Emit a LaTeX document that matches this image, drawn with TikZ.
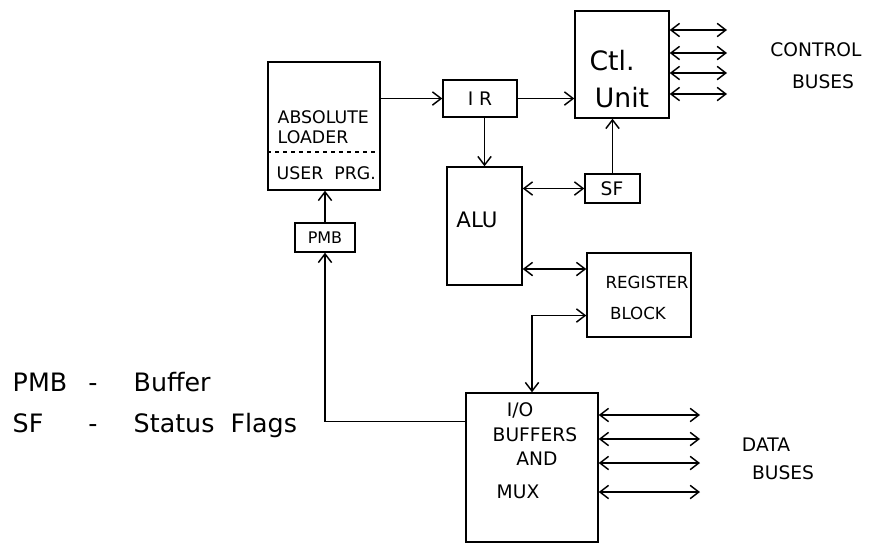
\documentclass[tikz,border=0pt]{standalone}
\usepackage{fontspec}
\setmainfont{DejaVu Sans}
\usetikzlibrary{arrows.meta, positioning, calc}

\begin{document}
\begin{tikzpicture}[x=0.75pt, y=-0.75pt, line width=1.1pt, >={Straight Barb[length=6.5pt,width=10pt]},
    blk/.style={draw, minimum width=#1, inner sep=0pt},
    lbl/.style={inner sep=0pt, font=\fontsize{#1}{#1}\selectfont},
    lbl/.default=13]
    \useasboundingbox (0,0) rectangle (870,543);

    \node[blk=84pt, minimum height=96pt] (loader) at (324,126) {};
    \node[blk=55.5pt, minimum height=27.75pt] (ir) at (480,98.5) {};
    \node[blk=70.5pt, minimum height=80.25pt] (ctl) at (622,64.5) {};
    \node[blk=56.25pt, minimum height=88.5pt] (alu) at (484.5,226) {};
    \node[blk=41.25pt, minimum height=21.75pt] (sf) at (612.5,188.5) {};
    \node[blk=78pt, minimum height=63pt] (reg) at (639,295) {};
    \node[blk=45pt, minimum height=21.75pt] (pmb) at (325,237.5) {};
    \node[blk=99pt, minimum height=111.75pt] (io) at (532,467.5) {};

    \draw[dashed, thick] (loader.west |- 0,152) -- (loader.east |- 0,152);

    \node[lbl, anchor=west] (abs) at (277,117) {ABSOLUTE};
    \node[lbl, anchor=west] (ldr) at (277,137) {LOADER};
    \node[lbl, anchor=west] (usr) at (276,173) {USER\ \ PRG.};
    \node[lbl=14] (irtxt) at (480,99) {I\ R};
    \node[lbl=20] (ctltxt) at (612,61) {Ctl.};
    \node[lbl=20] (unittxt) at (622,98) {Unit};
    \node[lbl=16] (alutxt) at (477,220) {ALU};
    \node[lbl=14] (sftxt) at (612,189) {SF};
    \node[lbl=12.5] (regtxt) at (647,282) {REGISTER};
    \node[lbl=12.5] (blktxt) at (638,313) {BLOCK};
    \node[lbl=12] (pmbtxt) at (325,237.5) {PMB};
    \node[lbl=14] (iotxt) at (520,410) {I/O};
    \node[lbl=14] (buftxt) at (535,435) {BUFFERS};
    \node[lbl=14] (andtxt) at (537,459) {AND};
    \node[lbl=14] (muxtxt) at (518,492) {MUX};

    \draw[->] (ir.west -| loader.east) -- (ir.west);
    \draw[->] (ir.east) -- (ir.east -| ctl.west);
    \draw[->] (alu.north |- ir.south) -- (alu.north);
    \draw[<->] (sf.west -| alu.east) -- (sf.west);
    \draw[->] (sf.north) -- (sf.north |- ctl.south);
    \draw[<->] ($(alu.north east)!0.86!(alu.south east)$) coordinate (ar) -- (ar -| reg.west);
    \draw[<->] ($(reg.north west)!0.74!(reg.south west)$) -| (io.north);
    \draw[->] ($(io.north west)!0.195!(io.south west)$) -| (pmb.south);
    \draw[->] (pmb.north) -- (pmb.north |- loader.south);

    \foreach \y [count=\i] in {30,53,73,94} {
        \coordinate (cb\i) at (727,\y);
        \draw[<->] (cb\i -| ctl.east) -- (cb\i);
    }
    \foreach \y [count=\i] in {415,439,463,492} {
        \coordinate (db\i) at (700,\y);
        \draw[<->] (db\i -| io.east) -- (db\i);
    }

    \node[lbl=14] (ctlbus) at (816,50) {CONTROL};
    \node[lbl=14] (ctlbus2) at (823,82) {BUSES};
    \node[lbl=14] (databus) at (766,445) {DATA};
    \node[lbl=14] (databus2) at (783,473) {BUSES};

    \node[lbl=19, anchor=base west] (keypmb) at (12,391) {PMB};
    \node[lbl=19, anchor=base] (dash1) at (93,391) {-};
    \node[lbl=19, anchor=base west] (keybuf) at (133,391) {Buffer};
    \node[lbl=19, anchor=base west] (keysf) at (12,432) {SF};
    \node[lbl=19, anchor=base] (dash2) at (93,432) {-};
    \node[lbl=19, anchor=base west] (keyflag) at (133,432) {Status\ \ Flags};
\end{tikzpicture}
\end{document}
